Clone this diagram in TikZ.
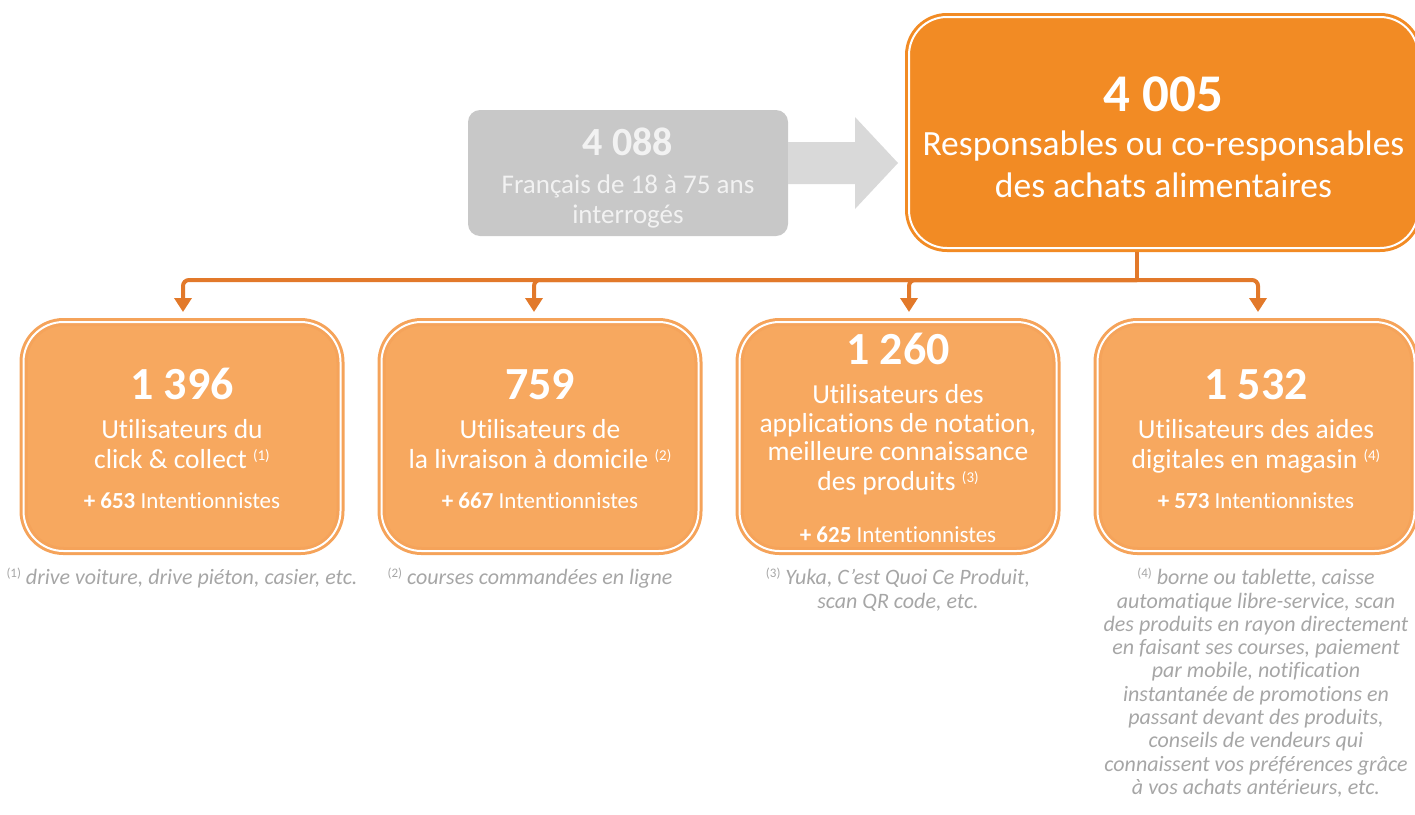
\documentclass[tikz,border=0pt]{standalone}
\usepackage{fontspec}
\setmainfont{Carlito}[Ligatures=NoCommon]
\usepackage{tikz}
\usetikzlibrary{arrows.meta,positioning}

\definecolor{orangefort}{RGB}{242,139,36}
\definecolor{orangeclair}{RGB}{247,168,95}
\definecolor{orangetrait}{RGB}{226,121,42}
\definecolor{grisboite}{RGB}{200,200,200}
\definecolor{grisfleche}{RGB}{217,217,217}
\definecolor{grisnote}{RGB}{166,166,166}

\newcommand{\grandnb}[2]{\rule{0pt}{#1}{\fontsize{46}{30}\selectfont\bfseries #2}}
\newcommand{\renvoi}[1]{\raisebox{8pt}{\fontsize{15}{15}\selectfont(#1)}}
\newcommand{\noteref}[1]{\raisebox{7pt}{\fontsize{13}{13}\selectfont\upshape(#1)}}
\newcommand{\intent}[1]{{\fontsize{23}{30}\selectfont\textbf{+ #1} Intentionnistes}}

\tikzstyle{haut}=[rectangle,rounded corners=38pt,fill=orangefort,draw=orangefort,line width=3pt,double=white,double distance=2pt,outer sep=4pt,minimum width=509pt,minimum height=231pt,inner sep=0pt,align=center,text=white,font=\fontsize{35.5}{42}\selectfont]
\tikzstyle{groupe}=[rectangle,rounded corners=40pt,fill=orangeclair,draw=orangeclair!90!orangetrait,line width=3pt,double=white,double distance=2pt,outer sep=4pt,minimum width=317pt,minimum height=229pt,inner sep=0pt,align=center,text=white,font=\fontsize{27.5}{30}\selectfont]
\tikzstyle{interroges}=[rectangle,rounded corners=12pt,fill=grisboite,minimum width=320pt,minimum height=126pt,inner sep=0pt,align=center,text=white!95!black,font=\fontsize{27}{30}\selectfont]
\tikzstyle{note}=[align=center,text=grisnote,font=\fontsize{22}{23.3}\selectfont\itshape,inner sep=0pt]
\tikzstyle{ast}=[draw=orangetrait,line width=4pt,rounded corners=6pt]
\tikzstyle{branche}=[ast,-{Triangle[width=17pt,length=14pt]},shorten >=6pt]

\begin{document}
\begin{tikzpicture}[x=1pt,y=1pt]

    \useasboundingbox (0,0) rectangle (1415,-814);

    % Noeuds
    \node[interroges] (befragt) at (628,-173) {\rule{0pt}{38pt}{\fontsize{40}{30}\selectfont\bfseries 4 088}\\[8pt] Français de 18 à 75 ans\\ interrogés};
    \node[haut] (verantw) at (1163.5,-132.5) {\rule{0pt}{45pt}{\fontsize{53}{42}\selectfont\bfseries 4 005}\\[2pt] Responsables ou co-responsables\\ des achats alimentaires};

    \node[groupe] (click) at (182,-436.5) {\grandnb{36pt}{1 396}\\[9pt] Utilisateurs du\\ click \& collect \renvoi{1}\\[10pt] \intent{653}};
    \node[groupe] (livraison) [right=33pt of click] {\grandnb{36pt}{759}\\[9pt] Utilisateurs de\\ la livraison à domicile \renvoi{2}\\[10pt] \intent{667}};
    \node[groupe] (appli) [right=33pt of livraison] {\grandnb{35pt}{1 260}\\[9pt] Utilisateurs des\\[-1pt] applications de notation,\\[-2pt] meilleure connaissance\\ des produits \renvoi{3}\\[22pt] \intent{625}};
    \node[groupe] (aides) [right=33pt of appli] {\grandnb{36pt}{1 532}\\[9pt] Utilisateurs des aides\\ digitales en magasin \renvoi{4}\\[10pt] \intent{573}};

    % Notes
    \node[note] (note1) [below=13pt of click] {\noteref{1} drive voiture, drive piéton, casier, etc.};
    \node[note] (note2) [below=13pt of livraison, xshift=-10pt] {\noteref{2} courses commandées en ligne};
    \node[note] (note3) [below=13pt of appli] {\noteref{3} Yuka, C’est Quoi Ce Produit,\\ scan QR code, etc.};
    \node[note] (note4) [below=13pt of aides] {\noteref{4} borne ou tablette, caisse\\ automatique libre-service, scan\\ des produits en rayon directement\\ en faisant ses courses, paiement\\ par mobile, notification\\ instantanée de promotions en\\ passant devant des produits,\\ conseils de vendeurs qui\\ connaissent vos préférences grâce\\ à vos achats antérieurs, etc.};

    % Fleche grise
    \fill[grisfleche] (befragt.east |- 0,-142) -- (855,-142) -- (855,-117) -- (898,-163) -- (855,-209) -- (855,-184) -- (befragt.east |- 0,-184) -- cycle;

    % Branches
    \coordinate (knoten) at (1137,-280);
    \draw[ast] (knoten |- verantw.south) -- (knoten);
    \draw[branche] (knoten) -| ([xshift=1pt]click.north);
    \draw[branche] (knoten) -| ([xshift=-6pt]livraison.north);
    \draw[branche] (knoten) -| ([xshift=11pt]appli.north);
    \draw[branche] (knoten) -| ([xshift=2pt]aides.north);

\end{tikzpicture}
\end{document}
